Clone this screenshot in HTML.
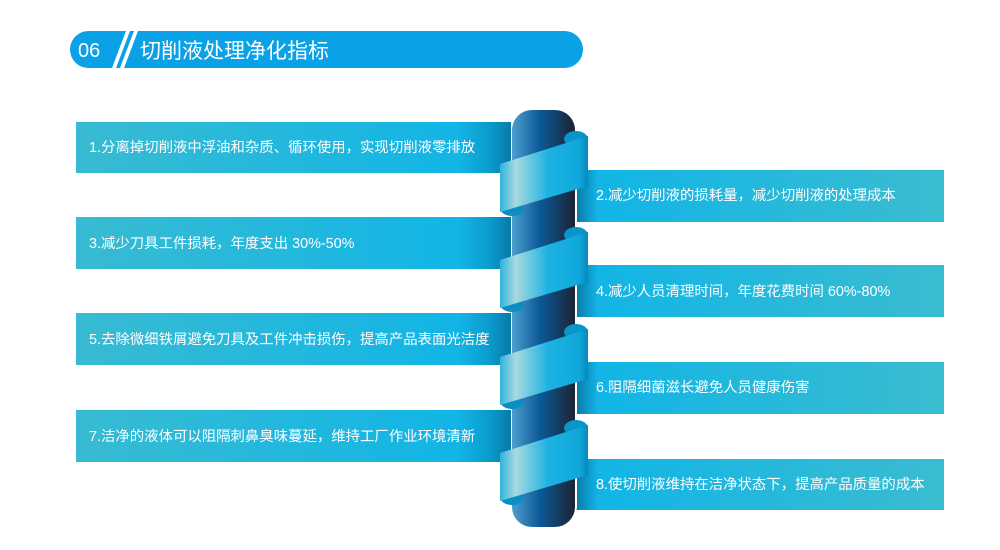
<!DOCTYPE html>
<html><head><meta charset="utf-8"><style>
html,body{margin:0;padding:0;background:#fff;}
svg{display:block;}
text{font-family:"Liberation Sans","Noto Sans CJK SC",sans-serif;fill:#fff;}
</style></head><body>
<svg width="1000" height="550" viewBox="0 0 1000 550" xmlns="http://www.w3.org/2000/svg">
<defs>
<linearGradient id="lb" x1="0" x2="1" y1="0" y2="0">
<stop offset="0" stop-color="#38bbd2"/><stop offset="0.88" stop-color="#12b5e6"/><stop offset="0.95" stop-color="#0a9ccc"/><stop offset="1" stop-color="#087aa8"/></linearGradient>
<linearGradient id="rb" x1="0" x2="1" y1="0" y2="0">
<stop offset="0" stop-color="#077aa8"/><stop offset="0.06" stop-color="#12b5e6"/><stop offset="1" stop-color="#3abcd0"/></linearGradient>
<linearGradient id="pl" x1="0" x2="1" y1="0" y2="0">
<stop offset="0" stop-color="#4d9fcf"/><stop offset="0.45" stop-color="#0b5896"/><stop offset="1" stop-color="#1c2333"/></linearGradient>
<linearGradient id="rib" x1="0" x2="1" y1="0" y2="0">
<stop offset="0" stop-color="#2fb3dc"/><stop offset="0.18" stop-color="#a9d9df"/><stop offset="0.55" stop-color="#1cb2e2"/><stop offset="0.9" stop-color="#10a8db"/><stop offset="1" stop-color="#0a85b8"/></linearGradient>
</defs>
<!-- header -->
<rect x="70" y="31" width="513" height="37" rx="18.5" fill="#0aa1e6"/>
<text x="78" y="57" font-size="20">06</text>
<polygon points="112,68 116,68 130,31 126,31" fill="#fff"/>
<polygon points="120,68 124,68 138,31 134,31" fill="#fff"/>
<text x="140" y="58" font-size="21">切削液处理净化指标</text>
<!-- left bars -->
<rect x="76" y="122" width="435" height="51" fill="url(#lb)"/>
<rect x="76" y="217" width="435" height="52" fill="url(#lb)"/>
<rect x="76" y="313" width="435" height="52" fill="url(#lb)"/>
<rect x="76" y="410" width="435" height="52" fill="url(#lb)"/>
<!-- right bars -->
<rect x="576" y="170" width="368" height="52" fill="url(#rb)"/>
<rect x="576" y="265" width="368" height="52" fill="url(#rb)"/>
<rect x="576" y="362" width="368" height="52" fill="url(#rb)"/>
<rect x="576" y="459" width="368" height="51" fill="url(#rb)"/>
<!-- pillar -->
<rect x="511" y="109" width="66" height="419" rx="22" fill="#fff"/>
<rect x="512" y="110" width="63" height="417" rx="20" fill="url(#pl)"/>
<!-- ribbons -->
<g id="r">
<ellipse cx="512" cy="208" rx="12" ry="8" fill="#0a8dc2"/>
<ellipse cx="576" cy="139" rx="12" ry="8" fill="#0a95c8"/>
<polygon points="500,164 588,136 588,186 500,212" fill="url(#rib)"/>
</g>
<use href="#r" y="96"/>
<use href="#r" y="193"/>
<use href="#r" y="289"/>
<!-- texts -->
<g font-size="14.4">
<text x="89" y="152">1.分离掉切削液中浮油和杂质、循环使用，实现切削液零排放</text>
<text x="89" y="248">3.减少刀具工件损耗，年度支出 30%-50%</text>
<text x="89" y="344">5.去除微细铁屑避免刀具及工件冲击损伤，提高产品表面光洁度</text>
<text x="89" y="441">7.洁净的液体可以阻隔刺鼻臭味蔓延，维持工厂作业环境清新</text>
<text x="596" y="200">2.减少切削液的损耗量，减少切削液的处理成本</text>
<text x="596" y="296">4.减少人员清理时间，年度花费时间 60%-80%</text>
<text x="596" y="392">6.阻隔细菌滋长避免人员健康伤害</text>
<text x="596" y="489">8.使切削液维持在洁净状态下，提高产品质量的成本</text>
</g>
</svg>
</body></html>
